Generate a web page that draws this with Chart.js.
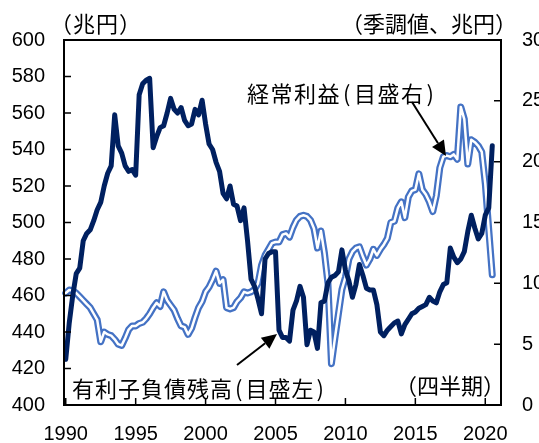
<!DOCTYPE html>
<html>
<head>
<meta charset="utf-8">
<script src="https://cdn.jsdelivr.net/npm/chart.js@4.4.0/dist/chart.umd.min.js"></script>
<style>
  body { margin: 0; overflow: hidden; background: #fff; }
  #wrap { position: relative; width: 580px; height: 443px; }
  .note { position: absolute; font-family: "Noto Sans CJK JP", sans-serif; font-size: 22px; line-height: 1; color: #000; white-space: nowrap; }
  .p { margin: 0 2px; }
</style>
</head>
<body>
<div id="wrap">
  <canvas id="chart" width="580" height="443"></canvas>
  <div class="note" style="left:50px; top:11px; letter-spacing:1px;">（兆円）</div>
  <div class="note" style="left:341px; top:11px;">（季調値、兆円）</div>
  <div class="note" style="left:247px; top:81px; letter-spacing:1.5px;">経常利益<span class="p">(</span>目盛右<span class="p">)</span></div>
  <div class="note" style="left:72px; top:376px; letter-spacing:1px;">有利子負債残高<span class="p">(</span>目盛左<span class="p">)</span></div>
  <div class="note" style="left:395px; top:373px;">（四半期）</div>
</div>
<script>
// quarterly, 1990Q1 .. 2020Q3
const years = [];
for (let y = 1990; y <= 2021; y++) years.push(y);
const quarters = [];
years.forEach(y => { for (let q = 1; q <= 4; q++) quarters.push(y + 'Q' + q); });
const labels = quarters.slice(0, 125); // axis runs to 2021Q1

// 有利子負債残高 (兆円, left axis)
const debt = [
    425, 445, 460, 472,
    475, 490, 494, 496,
    501, 507, 511, 520,
    527, 531, 559, 542,
    538, 531, 528, 529,
    526, 570, 576, 578,
    579, 541, 547, 552,
    553, 560, 568, 562,
    560, 563, 556, 553,
    554, 562, 559, 567,
    554, 543, 540, 533,
    528, 516, 513, 520,
    510, 509, 501, 508,
    490, 469, 465, 458,
    450, 480, 483, 484,
    484, 441, 437, 437,
    435, 452, 457, 465,
    459, 433, 441, 440,
    431, 456, 457, 467,
    470, 471, 473, 485,
    474, 468, 459, 466,
    477, 471, 464, 463,
    463, 455, 440, 438,
    441, 443, 445, 446,
    439, 444, 447, 450,
    451, 453, 454, 455,
    459, 457, 456, 462,
    466, 467, 486, 481,
    478, 480, 484, 495,
    504, 497, 491, 494,
    504, 508, 542
];

// 経常利益 (季調値、兆円, right axis)
const profit = [
    9.2, 9.45, 9.4, 9.2,
    8.9, 8.6, 8.3, 8.0,
    7.5, 7.0, 5.2, 6.0,
    5.8, 5.7, 5.4, 5.0,
    4.9, 5.5, 6.2, 6.5,
    6.5, 6.7, 6.8, 7.1,
    7.5, 8.0, 8.4, 8.1,
    9.3, 8.6, 8.2, 7.8,
    7.1, 6.5, 6.4, 5.8,
    6.3, 7.2, 8.0, 8.5,
    9.3, 9.7, 10.3, 11.0,
    10.0, 10.3, 8.0, 7.9,
    8.0, 8.5, 8.8, 9.3,
    9.2, 9.3, 9.5, 10.0,
    11.5, 12.3, 12.8, 13.3,
    13.4, 13.4, 14.0, 14.1,
    13.8, 14.6, 15.2, 15.5,
    15.6, 15.5, 15.2, 14.5,
    12.9, 14.3, 12.5, 10.0,
    3.4, 5.5, 7.5, 9.5,
    10.5, 12.0, 12.6, 12.9,
    13.0, 12.2, 11.5, 12.0,
    12.8, 12.3, 12.8, 13.2,
    13.7, 15.0, 15.1, 16.2,
    16.7, 15.4, 17.1, 17.6,
    17.7, 19.0, 17.7, 17.3,
    16.7, 15.9, 17.2, 19.5,
    20.4, 20.5, 20.4, 20.6,
    20.2, 24.5, 23.5, 19.8,
    21.8, 21.6, 21.3, 20.8,
    18.2, 14.4, 10.7
];

const leftTicks = { min: 400, max: 600, step: 20 };
const rightTicks = { min: 0, max: 30, step: 5 };

const tickFont = { family: 'Liberation Sans', size: 20 };

function isMajor(label) {
    return label.endsWith('Q1') && parseInt(label) % 5 === 0;
}

function drawArrow(ctx, x1, y1, x2, y2) {
    const ang = Math.atan2(y2 - y1, x2 - x1);
    const len = 15, half = 7;
    const bx = x2 - len * Math.cos(ang), by = y2 - len * Math.sin(ang);
    ctx.beginPath();
    ctx.moveTo(x1, y1);
    ctx.lineTo(bx, by);
    ctx.lineWidth = 2;
    ctx.stroke();
    ctx.beginPath();
    ctx.moveTo(x2, y2);
    ctx.lineTo(bx + half * Math.sin(ang), by - half * Math.cos(ang));
    ctx.lineTo(bx - half * Math.sin(ang), by + half * Math.cos(ang));
    ctx.closePath();
    ctx.fill();
}

const framePlugin = {
    id: 'frame',
    afterDatasetsDraw(chart) {
        const { ctx, chartArea: a, scales } = chart;
        ctx.save();
        ctx.strokeStyle = '#000';
        ctx.fillStyle = '#000';
        ctx.lineWidth = 2;
        ctx.strokeRect(a.left, a.top, a.right - a.left, a.bottom - a.top);

        // inward tick marks
        ctx.lineWidth = 1.5;
        ctx.beginPath();
        scales.y.ticks.forEach(t => {
            const y = scales.y.getPixelForValue(t.value);
            ctx.moveTo(a.left, y);
            ctx.lineTo(a.left + 7, y);
        });
        scales.y2.ticks.forEach(t => {
            const y = scales.y2.getPixelForValue(t.value);
            ctx.moveTo(a.right, y);
            ctx.lineTo(a.right - 7, y);
        });
        labels.forEach((l, i) => {
            if (!isMajor(l)) return;
            const x = scales.x.getPixelForValue(i);
            ctx.moveTo(x, a.bottom);
            ctx.lineTo(x, a.bottom - 7);
        });
        ctx.stroke();

        drawArrow(ctx, 412, 102, 446, 156);
        drawArrow(ctx, 237, 365, 277, 334);
        ctx.restore();
    }
};

const ctx = document.getElementById('chart').getContext('2d');
new Chart(ctx, {
    type: 'line',
    data: {
        labels: labels,
        datasets: [
            {
                label: '有利子負債残高',
                data: debt,
                yAxisID: 'y',
                borderColor: '#002060',
                borderWidth: 5,
                order: 1
            },
            {
                label: '経常利益 inner',
                data: profit,
                yAxisID: 'y2',
                borderColor: '#ffffff',
                borderWidth: 2.5,
                order: 2
            },
            {
                label: '経常利益',
                data: profit,
                yAxisID: 'y2',
                borderColor: '#4472c4',
                borderWidth: 7,
                order: 3
            }
        ]
    },
    options: {
        responsive: false,
        animation: false,
        layout: { padding: { top: 40, left: 0, right: 0, bottom: 0 } },
        elements: {
            point: { radius: 0 },
            line: { tension: 0, borderJoinStyle: 'round', borderCapStyle: 'round', fill: false }
        },
        plugins: { legend: { display: false }, tooltip: { enabled: false } },
        scales: {
            x: {
                type: 'category',
                offset: true,
                grid: { display: false, drawTicks: false },
                border: { display: false },
                afterFit: s => { s.height = 38; },
                ticks: {
                    autoSkip: false,
                    maxRotation: 0,
                    padding: 17,
                    color: '#000',
                    font: tickFont,
                    callback: function (value) {
                        const l = this.getLabelForValue(value);
                        return isMajor(l) ? l.slice(0, 4) : null;
                    }
                }
            },
            y: {
                position: 'left',
                min: leftTicks.min,
                max: leftTicks.max,
                grid: { display: false, drawTicks: false },
                border: { display: false },
                afterFit: s => { s.width = 64; },
                ticks: { stepSize: leftTicks.step, padding: 19, color: '#000', font: tickFont }
            },
            y2: {
                position: 'right',
                min: rightTicks.min,
                max: rightTicks.max,
                grid: { display: false, drawTicks: false },
                border: { display: false },
                afterFit: s => { s.width = 79; },
                ticks: { stepSize: rightTicks.step, padding: 21, color: '#000', font: tickFont }
            }
        }
    },
    plugins: [framePlugin]
});
</script>
</body>
</html>
